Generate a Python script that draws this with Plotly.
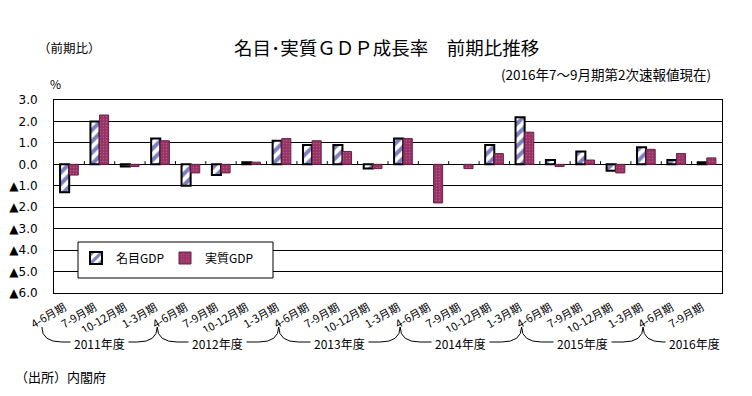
import plotly.graph_objects as go

# ---------------- data ----------------
fiscal_years = ["2011年度", "2012年度", "2013年度", "2014年度", "2015年度", "2016年度"]
quarter_names = ["4-6月期", "7-9月期", "10-12月期", "1-3月期"]
quarters_per_year = [4, 4, 4, 4, 4, 2]

categories = [f"{fy} {q}" for fy, n in zip(fiscal_years, quarters_per_year) for q in quarter_names[:n]]
tick_labels = [q for n in quarters_per_year for q in quarter_names[:n]]

nominal = [-1.3, 2.0, -0.1, 1.2, -1.0, -0.5, 0.1, 1.1,
           0.9, 0.9, -0.2, 1.2, 0.0, 0.0, 0.9, 2.2,
           0.2, 0.6, -0.3, 0.8, 0.2, 0.1]
real = [-0.5, 2.3, -0.1, 1.1, -0.4, -0.4, 0.1, 1.2,
        1.1, 0.6, -0.2, 1.2, -1.8, -0.2, 0.5, 1.5,
        -0.1, 0.2, -0.4, 0.7, 0.5, 0.3]

y_ticks = [3, 2, 1, 0, -1, -2, -3, -4, -5, -6]
y_tick_labels = ["3.0", "2.0", "1.0", "0.0", "▲1.0", "▲2.0", "▲3.0", "▲4.0", "▲5.0", "▲6.0"]

title_text = "名目･実質ＧＤＰ成長率　前期比推移"
subtitle_text = "(2016年7～9月期第2次速報値現在)"
unit_text = "（前期比）"
source_text = "（出所）内閣府"

# ---------------- layout helpers (page pixel coordinates) ----------------
PAGE_W, PAGE_H = 752, 396
OFF = 8                      # default body margin of the page
W, H = PAGE_W - 2 * OFF, PAGE_H - 2 * OFF
L, R, T, B = 54, 722, 100, 293
NC = len(categories)
JP = "Noto Sans CJK JP, sans-serif"


def px(x):
    return (x - L) / (R - L)


def py(y):
    return (B - y) / (B - T)


def fx(f):  # f: position in category units from the left edge
    return f / NC


# zero-height bars are not drawn in the original (no outline either)
nominal_line_w = [0 if v == 0 else 2 for v in nominal]
real_line_w = [0 if v == 0 else 1 for v in real]

fig = go.Figure()
fig.add_trace(go.Bar(
    x=categories, y=nominal, name="名目GDP",
    marker=dict(color="white", line=dict(color="black", width=nominal_line_w),
                pattern=dict(shape="/", fgcolor="#000080", bgcolor="white", size=8, solidity=0.5)),
))
fig.add_trace(go.Bar(
    x=categories, y=real, name="実質GDP",
    marker=dict(color="#993366", line=dict(color="#6a1f46", width=real_line_w),
                pattern=dict(shape=".", fgcolor="#c98aa8", size=3, solidity=0.15, fillmode="overlay")),
))

shapes = []
# legend frame
shapes.append(dict(type="rect", xref="paper", yref="paper",
                   x0=px(78), x1=px(273), y0=py(278), y1=py(242),
                   fillcolor="white", line=dict(color="black", width=1), layer="above"))
# small ticks on the zero line at category boundaries
for b in range(1, NC):
    shapes.append(dict(type="line", xref="x", yref="y", x0=b - 0.5, x1=b - 0.5, y0=0, y1=0.15,
                       line=dict(color="black", width=1)))

# fiscal-year brackets
peaks = [-0.4, 3.4, 7.4, 11.4, 15.4, 19.4, 22.8]
yt, yb = py(327), py(342)
dxp = 20 / (R - L)
annotations = []
for k, fy in enumerate(fiscal_years):
    a, b = fx(peaks[k]), fx(peaks[k + 1])
    mid = (a + b) / 2
    if k < len(fiscal_years) - 1:
        path = (f"M {a},{yt} Q {a},{yb} {a + dxp},{yb} L {b - dxp},{yb} "
                f"Q {b},{yb} {b},{yt}")
    else:
        path = f"M {a},{yt} Q {a},{yb} {a + dxp},{yb} L {mid},{yb}"
    shapes.append(dict(type="path", xref="paper", yref="paper", path=path,
                       line=dict(color="black", width=1)))
    annotations.append(dict(xref="paper", yref="paper", x=mid, y=py(343), text=fy,
                            showarrow=False, font=dict(family=JP, size=12, color="black"),
                            bgcolor="white", borderpad=3, xanchor="center", yanchor="middle"))

annotations += [
    dict(xref="paper", yref="paper", x=px(386), y=py(47), text=title_text, showarrow=False,
         font=dict(family=JP, size=18.5, color="black"), xanchor="center", yanchor="middle"),
    dict(xref="paper", yref="paper", x=px(36), y=py(48), text=unit_text, showarrow=False,
         font=dict(family=JP, size=12.5, color="black"), xanchor="left", yanchor="middle"),
    dict(xref="paper", yref="paper", x=px(55), y=py(84), text="%", showarrow=False,
         font=dict(family=JP, size=12, color="black"), xanchor="center", yanchor="middle"),
    dict(xref="paper", yref="paper", x=px(713), y=py(74), text=subtitle_text, showarrow=False,
         font=dict(family=JP, size=13.5, color="black"), xanchor="right", yanchor="middle"),
    dict(xref="paper", yref="paper", x=px(13), y=py(376), text=source_text, showarrow=False,
         font=dict(family=JP, size=13, color="black"), xanchor="left", yanchor="middle"),
]

fig.update_layout(
    width=W, height=H,
    margin=dict(l=L - OFF, r=W - (R - OFF), t=T - OFF, b=H - (B - OFF), autoexpand=False),
    paper_bgcolor="white", plot_bgcolor="white",
    barmode="group", bargap=0.4, bargroupgap=0,
    showlegend=True,
    legend=dict(orientation="h", x=px(76), y=py(258), xanchor="left", yanchor="middle",
                bgcolor="rgba(0,0,0,0)", font=dict(family=JP, size=12, color="black"),
                entrywidth=44, entrywidthmode="pixels", traceorder="normal"),
    xaxis=dict(type="category", tickvals=categories, ticktext=tick_labels, tickangle=-30,
               tickfont=dict(family=JP, size=11, color="black"), ticklabelshift=-5,
               ticklabelstandoff=3,
               showline=True, mirror=True, linecolor="black", linewidth=1, automargin=False,
               showgrid=False, ticks="", range=[-0.5, NC - 0.5]),
    yaxis=dict(range=[-6, 3], tickvals=y_ticks, ticktext=y_tick_labels, automargin=False,
               tickfont=dict(family="DejaVu Sans, Verdana, sans-serif", size=12, color="black"),
               showgrid=True, gridcolor="black", gridwidth=1, zeroline=False,
               showline=True, mirror=True, linecolor="black", linewidth=1,
               ticks="", ticklabelstandoff=13),
    shapes=shapes,
    annotations=annotations,
)

fig.write_html("out.html")
